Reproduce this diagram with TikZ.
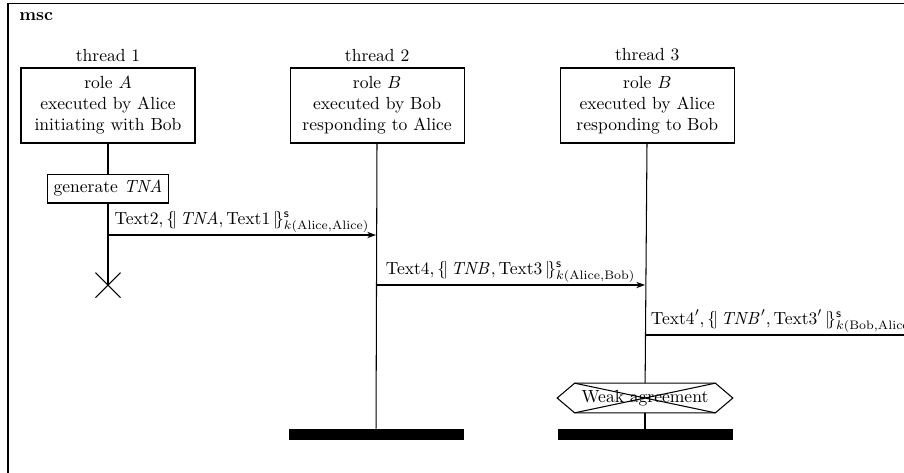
\documentclass[tikz,border=0pt]{standalone}
\usepackage{amsmath}
\usepackage{tikz}
\usetikzlibrary{arrows.meta,positioning,calc}
\tikzset{
  % Instance head
  IH/.style={rectangle,draw,semithick,fill=white,
             minimum width=99.2pt,minimum height=42.75pt,
             text centered,align=center,inner sep=2pt},
  % Action box
  AC/.style={rectangle,draw,semithick,fill=white,
             minimum width=69.5pt,minimum height=16.5pt,inner sep=3pt},
  % Condition (hexagon is drawn round it)
  CD/.style={rectangle,minimum width=79.8pt,minimum height=16.5pt,inner sep=0pt},
  % Instance end
  IE/.style={rectangle,fill=black,minimum width=99.75pt,minimum height=6.3pt,inner sep=0pt},
  % Lifeline
  LL/.style={semithick},
  % Message
  msg/.style={-{Stealth[length=5pt,width=3.6pt]},semithick},
  ML/.style={midway,above,inner sep=1pt}
}

\begin{document}
\begin{tikzpicture}[x=0.57pt,y=-0.57pt]
  \clip (0,0) rectangle (904,472);
  % frame
  \draw[line width=0.8pt] (8,3.5) rectangle (960,520);
  \node[anchor=base west,font=\bfseries,inner sep=0pt] (title) at (19,20) {msc};
  % instance heads
  \node[IH] (h1) at (108,105.5) {role $A$\\executed by Alice\\initiating with Bob};
  \node[IH,right=53.6pt of h1] (h2) {role $B$\\executed by Bob\\responding to Alice};
  \node[IH,right=54.2pt of h2] (h3) {role $B$\\executed by Alice\\responding to Bob};
  \node[above=0pt of h1] (t1) {thread 1};
  \node[above=0pt of h2] (t2) {thread 2};
  \node[above=0pt of h3] (t3) {thread 3};
  % thread 1
  \node[AC,below=17.1pt of h1] (act) {generate $\mathit{TNA}$};
  \coordinate (x1) at (108,285);
  \draw[LL] (h1) -- (act);
  \draw[LL] (act) -- (x1);
  \draw[semithick] ($(x1)+(-12.5,-12.5)$) -- ($(x1)+(12.5,12.5)$);
  \draw[semithick] ($(x1)+(-12.5,12.5)$) -- ($(x1)+(12.5,-12.5)$);
  % instance ends
  \node[IE] (e2) at (376,434.5) {};
  \node[IE] (e3) at (645,434.5) {};
  \draw[LL] (h2) -- (e2);
  % condition
  \node[CD] (cond) at (645,398) {Weak agreement};
  \draw[LL] (h3) -- (cond);
  \draw[LL] (cond) -- (e3);
  \draw[semithick] ($(cond.west)+(-17.5,0)$) -- (cond.north west) -- (cond.north east)
    -- ($(cond.east)+(17.5,0)$) -- (cond.south east) -- (cond.south west) -- cycle;
  \draw[semithick] (cond.north west) -- (cond.south east);
  \draw[semithick] (cond.south west) -- (cond.north east);
  % messages
  \coordinate (m1a) at (108,235);
  \coordinate (m1b) at (376,235);
  \coordinate (m2a) at (376,285);
  \coordinate (m2b) at (645,285);
  \coordinate (m3a) at (645,335);
  \coordinate (m3b) at (921,335);
  \draw[msg] (m1a) -- (m1b) node[ML]
    {$\mathrm{Text2}, \{\!|\, \mathit{TNA}, \mathrm{Text1}\,|\!\}^{\mathsf{s}}_{k(\mathrm{Alice},\mathrm{Alice})}$};
  \draw[msg] (m2a) -- (m2b) node[ML]
    {$\mathrm{Text4}, \{\!|\, \mathit{TNB}, \mathrm{Text3}\,|\!\}^{\mathsf{s}}_{k(\mathrm{Alice},\mathrm{Bob})}$};
  \draw[msg] (m3a) -- (m3b) node[ML]
    {$\mathrm{Text4}', \{\!|\, \mathit{TNB}', \mathrm{Text3}'\,|\!\}^{\mathsf{s}}_{k(\mathrm{Bob},\mathrm{Alice})}$};
\end{tikzpicture}
\end{document}
